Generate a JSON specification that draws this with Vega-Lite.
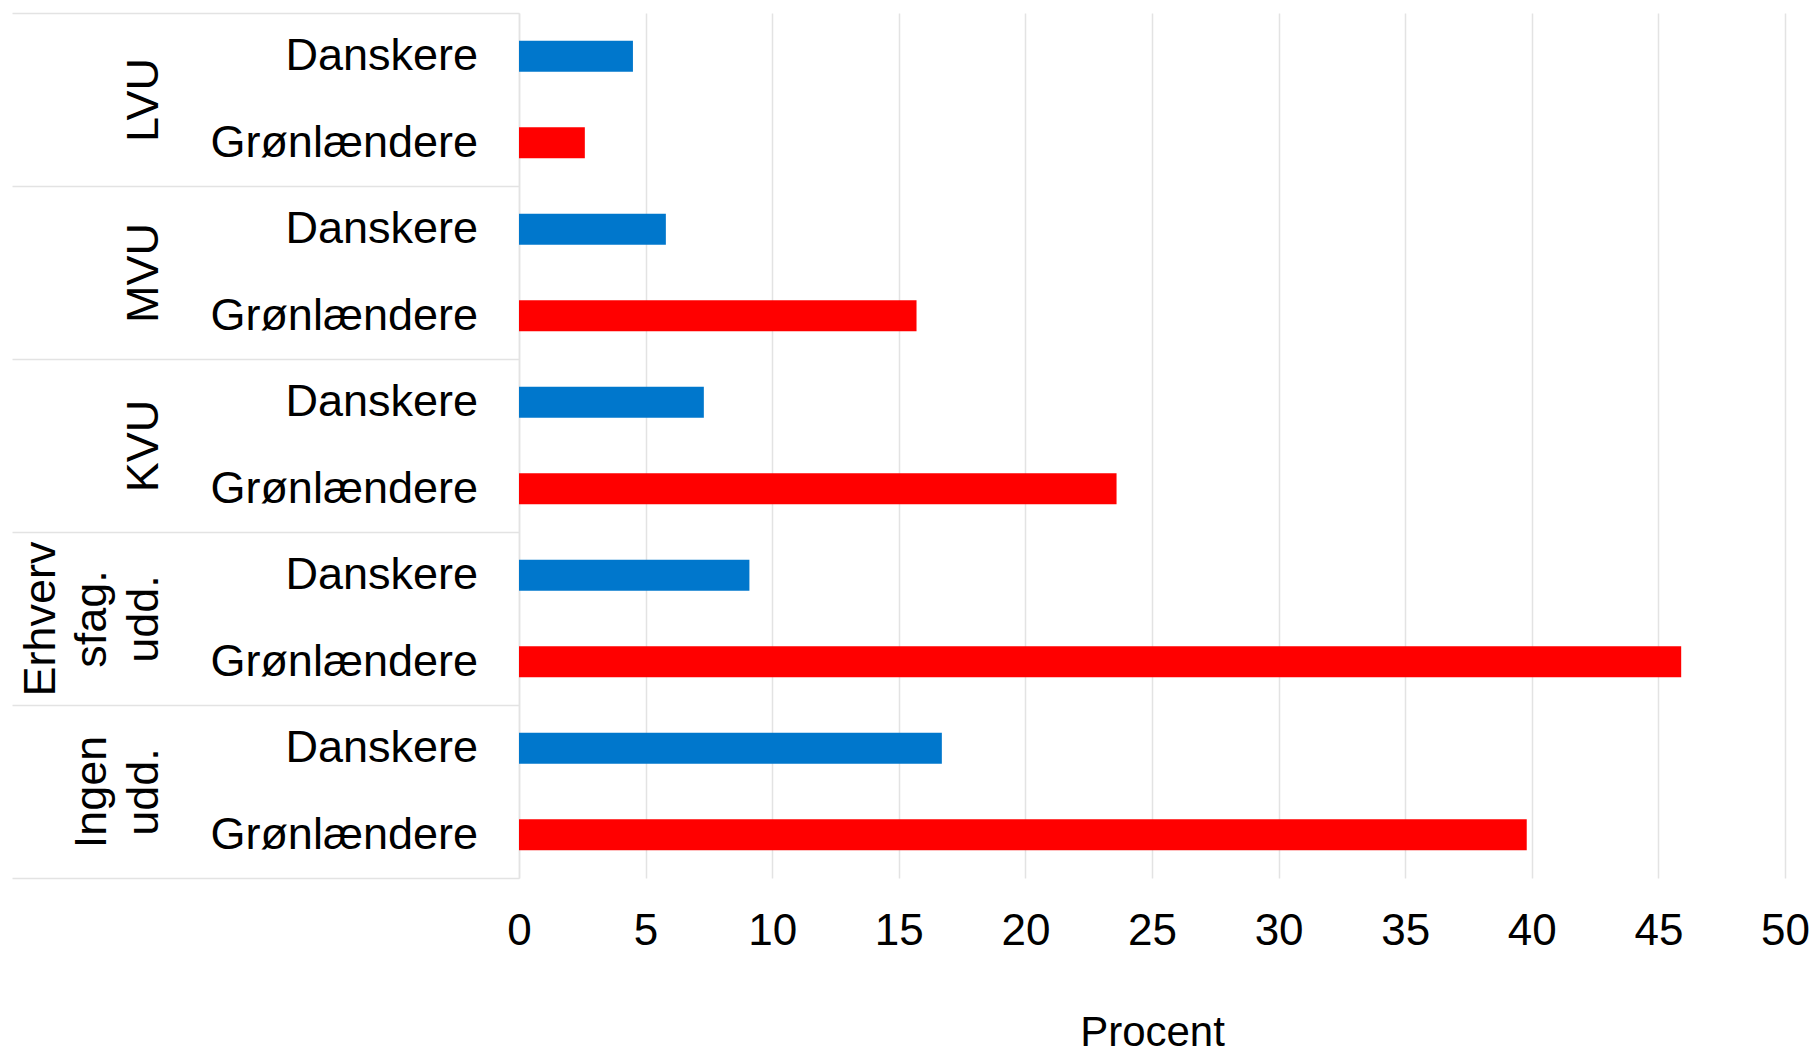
{
  "$schema": "https://vega.github.io/schema/vega-lite/v6.json",
  "width": 1266,
  "height": 865,
  "autosize": "none",
  "padding": {"left": 519, "top": 13, "right": 29, "bottom": 173},
  "background": "white",
  "config": {"font": "Liberation Sans", "view": {"stroke": null}},
  "data": {
    "values": [
      {"gruppe": "LVU", "nation": "Danskere", "procent": 4.5},
      {"gruppe": "LVU", "nation": "Grønlændere", "procent": 2.6},
      {"gruppe": "MVU", "nation": "Danskere", "procent": 5.8},
      {"gruppe": "MVU", "nation": "Grønlændere", "procent": 15.7},
      {"gruppe": "KVU", "nation": "Danskere", "procent": 7.3},
      {"gruppe": "KVU", "nation": "Grønlændere", "procent": 23.6},
      {"gruppe": "Erhvervsfag. udd.", "nation": "Danskere", "procent": 9.1},
      {"gruppe": "Erhvervsfag. udd.", "nation": "Grønlændere", "procent": 45.9},
      {"gruppe": "Ingen udd.", "nation": "Danskere", "procent": 16.7},
      {"gruppe": "Ingen udd.", "nation": "Grønlændere", "procent": 39.8}
    ]
  },
  "encoding": {
    "y": {
      "field": "gruppe",
      "type": "nominal",
      "sort": ["LVU", "MVU", "KVU", "Erhvervsfag. udd.", "Ingen udd."],
      "scale": {"paddingInner": 0, "paddingOuter": 0},
      "axis": {
        "title": null,
        "grid": false,
        "domain": true,
        "domainColor": "#e3e3e3",
        "domainWidth": 1.5,
        "ticks": true,
        "tickBand": "extent",
        "tickSize": 507,
        "tickColor": "#e3e3e3",
        "tickWidth": 1.5,
        "labelAngle": -90,
        "labelAlign": "center",
        "labelBaseline": "bottom",
        "labelPadding": {
          "condition": [
            {"test": "datum.value == 'Erhvervsfag. udd.'", "value": -51},
            {"test": "datum.value == 'Ingen udd.'", "value": -102.5}
          ],
          "value": -154
        },
        "labelFontSize": 45,
        "labelColor": "#000000",
        "labelLineHeight": 51.5,
        "labelLimit": 600,
        "labelExpr": "datum.value == 'Erhvervsfag. udd.' ? ['Erhverv', 'sfag.', 'udd.'] : datum.value == 'Ingen udd.' ? ['Ingen', 'udd.'] : datum.value"
      }
    },
    "yOffset": {
      "field": "nation",
      "type": "nominal",
      "sort": ["Danskere", "Grønlændere"],
      "scale": {"paddingInner": 0.642, "paddingOuter": 0.321}
    }
  },
  "layer": [
    {
      "mark": {"type": "bar"},
      "encoding": {
        "x": {
          "field": "procent",
          "type": "quantitative",
          "scale": {"domain": [0, 50], "nice": false},
          "axis": {
            "values": [0, 5, 10, 15, 20, 25, 30, 35, 40, 45, 50],
            "domain": false,
            "ticks": false,
            "grid": true,
            "gridColor": "#e3e3e3",
            "gridWidth": 1.5,
            "labelFontSize": 44,
            "labelColor": "#000000",
            "labelPadding": 31,
            "labelFlush": false,
            "title": "Procent",
            "titleFontSize": 42,
            "titleFontWeight": "normal",
            "titleColor": "#000000",
            "titleBaseline": "top",
            "titleY": 134
          }
        },
        "color": {
          "field": "nation",
          "type": "nominal",
          "scale": {"domain": ["Danskere", "Grønlændere"], "range": ["#0077cc", "#ff0000"]},
          "legend": null
        }
      }
    },
    {
      "mark": {"type": "text", "align": "right", "baseline": "middle", "dx": -41, "fontSize": 45, "color": "#000000"},
      "encoding": {
        "x": {"datum": 0},
        "text": {"field": "nation"}
      }
    }
  ]
}
